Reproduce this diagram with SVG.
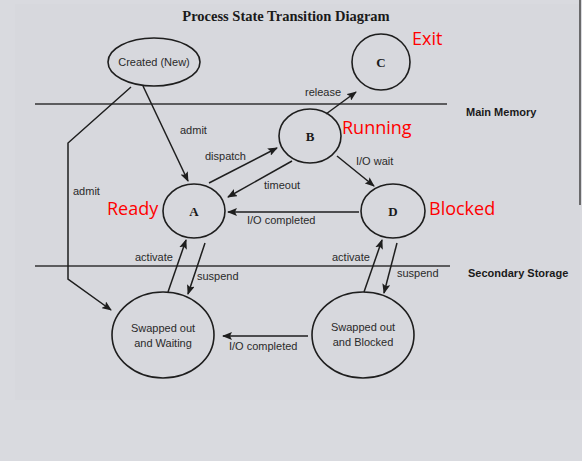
<svg xmlns="http://www.w3.org/2000/svg" width="582" height="461" viewBox="0 0 582 461">
<style>
.node{fill:none;stroke:#1e1e1e;stroke-width:1.6}
.edge{fill:none;stroke:#1e1e1e;stroke-width:1.5}
.lbl{font-family:"Liberation Sans",Arial,sans-serif;font-size:11px;fill:#2a2a2a}
.sec{font-family:"Liberation Sans",Arial,sans-serif;font-size:11px;font-weight:bold;fill:#1a1a1a}
.st{font-family:"Liberation Serif","Times New Roman",serif;font-size:13px;font-weight:bold;fill:#1a1a1a}
.title{font-family:"Liberation Serif","Times New Roman",serif;font-size:14.5px;font-weight:bold;fill:#1a1a1a}
.red{font-family:"Open Sans","Noto Sans",sans-serif;font-size:18px;fill:#ff0000}
.div{stroke:#333;stroke-width:1.4}
</style>
<defs>
<marker id="ah" markerWidth="10" markerHeight="8" refX="9" refY="4" orient="auto" markerUnits="userSpaceOnUse">
<path d="M0,0 L10,4 L0,8 L2,4 Z" fill="#1e1e1e"/>
</marker>
</defs>
<rect width="582" height="461" fill="#d9dadf"/>
<rect x="15" y="4" width="565" height="396" fill="#d7d8dd"/>
<line x1="580" y1="0" x2="580" y2="205" stroke="#444" stroke-width="1.5"/>
<text x="286" y="21" class="title" text-anchor="middle">Process State Transition Diagram</text>
<g id="dividers">
<line class="div" x1="35" y1="104" x2="447" y2="104"/>
<line class="div" x1="35" y1="266" x2="450" y2="266"/>
<text x="466" y="116" class="sec">Main Memory</text>
<text x="468" y="277" class="sec">Secondary Storage</text>
</g>
<g id="created">
<ellipse class="node" cx="154" cy="62" rx="46" ry="24"/>
<text x="154" y="66" class="lbl" text-anchor="middle">Created (New)</text>
</g>
<g id="C">
<ellipse class="node" cx="381" cy="62" rx="29" ry="28"/>
<text x="381" y="67" class="st" text-anchor="middle">C</text>
<text x="412" y="45" class="red">Exit</text>
</g>
<g id="B">
<ellipse class="node" cx="310" cy="136" rx="31" ry="27"/>
<text x="310" y="141" class="st" text-anchor="middle">B</text>
<text x="342" y="134" class="red">Running</text>
</g>
<g id="A">
<ellipse class="node" cx="194" cy="211" rx="31" ry="27"/>
<text x="194" y="216" class="st" text-anchor="middle">A</text>
<text x="107" y="215" class="red">Ready</text>
</g>
<g id="D">
<ellipse class="node" cx="393" cy="211" rx="32" ry="27"/>
<text x="393" y="216" class="st" text-anchor="middle">D</text>
<text x="429" y="215" class="red">Blocked</text>
</g>
<g id="swapped-waiting">
<ellipse class="node" cx="163" cy="335" rx="51" ry="43"/>
<text x="163" y="332" class="lbl" text-anchor="middle">Swapped out</text>
<text x="163" y="347" class="lbl" text-anchor="middle">and Waiting</text>
</g>
<g id="swapped-blocked">
<ellipse class="node" cx="363" cy="335" rx="51" ry="43"/>
<text x="363" y="331" class="lbl" text-anchor="middle">Swapped out</text>
<text x="363" y="346" class="lbl" text-anchor="middle">and Blocked</text>
</g>
<g id="connectors">
<line class="edge" x1="143" y1="86" x2="188" y2="181" marker-end="url(#ah)"/>
<text x="180" y="134" class="lbl">admit</text>
<polyline class="edge" points="131,87 68,143 68,279 111,310" marker-end="url(#ah)"/>
<text x="73" y="195" class="lbl">admit</text>
<line class="edge" x1="326" y1="114" x2="356" y2="92" marker-end="url(#ah)"/>
<text x="305" y="96" class="lbl">release</text>
<line class="edge" x1="209" y1="183" x2="277" y2="148" marker-end="url(#ah)"/>
<text x="205" y="160" class="lbl">dispatch</text>
<line class="edge" x1="292" y1="161" x2="228" y2="197" marker-end="url(#ah)"/>
<text x="264" y="189" class="lbl">timeout</text>
<line class="edge" x1="337" y1="156" x2="374" y2="186" marker-end="url(#ah)"/>
<text x="356" y="165" class="lbl">I/O wait</text>
<line class="edge" x1="359" y1="212" x2="228" y2="212" marker-end="url(#ah)"/>
<text x="247" y="224" class="lbl">I/O completed</text>
<line class="edge" x1="168" y1="292" x2="186" y2="240" marker-end="url(#ah)"/>
<text x="135" y="261" class="lbl">activate</text>
<line class="edge" x1="205" y1="243" x2="188" y2="294" marker-end="url(#ah)"/>
<text x="197" y="280" class="lbl">suspend</text>
<line class="edge" x1="364" y1="292" x2="382" y2="240" marker-end="url(#ah)"/>
<text x="332" y="261" class="lbl">activate</text>
<line class="edge" x1="397" y1="243" x2="384" y2="293" marker-end="url(#ah)"/>
<text x="397" y="277" class="lbl">suspend</text>
<line class="edge" x1="308" y1="336" x2="223" y2="336" marker-end="url(#ah)"/>
<text x="229" y="350" class="lbl">I/O completed</text>
</g>
</svg>
